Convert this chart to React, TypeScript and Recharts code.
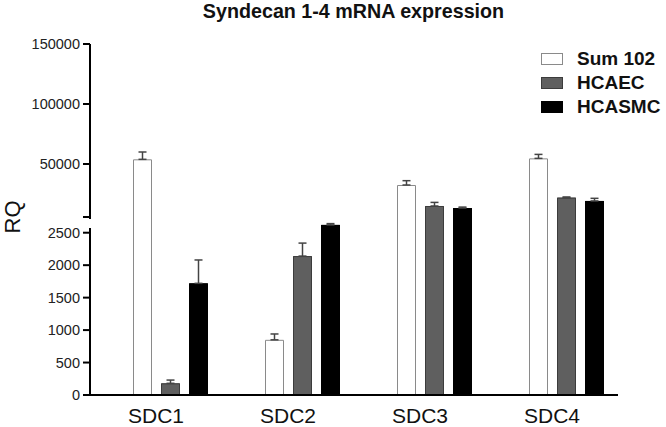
import { BarChart, Bar, XAxis, YAxis, ErrorBar, Legend } from "recharts";

const CATEGORIES = ["SDC1", "SDC2", "SDC3", "SDC4"];
const SUM102 = [53900, 850, 32500, 54700];
const SUM102_ERR = [6100, 90, 3600, 3300];
const HCAEC = [180, 2140, 15000, 22000];
const HCAEC_ERR = [50, 200, 3000, 500];
const HCASMC = [1720, 2620, 13300, 19200];
const HCASMC_ERR = [360, 20, 800, 2200];

// broken y axis: upper and lower segments
const UPPER_MIN = 5833;
const UPPER_TICKS = [UPPER_MIN, 50000, 100000, 150000];
const LOWER_MAX = 2742;
const LOWER_TICKS = [0, 500, 1000, 1500, 2000, 2500];

const SERIES = [
  { key: "sum102", name: "Sum 102", fill: "#ffffff", stroke: "#8a8a8a" },
  { key: "hcaec", name: "HCAEC", fill: "#5f5f5f", stroke: "#3c3c3c" },
  { key: "hcasmc", name: "HCASMC", fill: "#000000", stroke: "#000000" },
];

const data = CATEGORIES.map((name, i) => ({
  name,
  sum102: SUM102[i],
  sum102Err: SUM102_ERR[i],
  hcaec: HCAEC[i],
  hcaecErr: HCAEC_ERR[i],
  hcasmc: HCASMC[i],
  hcasmcErr: HCASMC_ERR[i],
}));

const FONT = "'Liberation Sans', Arial, sans-serif";
const W = 666;
const MARGIN_RIGHT = 48;

const axisStyle = { stroke: "#000", strokeWidth: 2 };
const tickStyle = { fill: "#222", fontSize: 14.5, fontFamily: FONT };

// bar without bottom edge, so the two segments join cleanly
const makeShape = (key: string, upper: boolean) => (props: any) => {
  const { x, y, width, height, fill, stroke, payload } = props;
  if (upper && !(payload[key] > UPPER_MIN)) return <g />;
  if (!(height > 0)) return <g />;
  return (
    <g>
      <rect x={x} y={y} width={width} height={height} fill={fill} />
      <path
        d={`M${x + 0.5},${y + height}V${y + 0.5}H${x + width - 0.5}V${y + height}`}
        fill="none"
        stroke={stroke}
        strokeWidth={1}
      />
    </g>
  );
};

const renderBars = (upper: boolean) =>
  SERIES.map((s) => (
    <Bar
      key={s.key}
      xAxisId="bars"
      dataKey={s.key}
      name={s.name}
      fill={s.fill}
      stroke={s.stroke}
      barSize={19}
      shape={makeShape(s.key, upper)}
      isAnimationActive={false}
    >
      <ErrorBar
        dataKey={(d: any) =>
          (upper ? d[s.key] > UPPER_MIN : d[s.key] <= LOWER_MAX) ? [0, d[`${s.key}Err`]] : undefined
        }
        width={4}
        stroke="#444"
        strokeWidth={1.5}
        direction="y"
      />
    </Bar>
  ));

const renderLegend = () => (
  <div style={{ fontFamily: FONT, fontWeight: "bold", fontSize: 19, color: "#111" }}>
    {SERIES.map((s) => (
      <div key={s.key} style={{ display: "flex", alignItems: "center", height: 24 }}>
        <span
          style={{
            display: "inline-block",
            width: 20,
            height: 10,
            background: s.fill,
            border: `1px solid ${s.stroke}`,
            marginRight: 14,
          }}
        />
        <span>{s.name}</span>
      </div>
    ))}
  </div>
);

export default function App() {
  return (
    <div style={{ position: "absolute", left: 0, top: 0, width: W, height: 427, background: "#fff" }}>
      <div
        style={{
          position: "absolute",
          top: 0,
          left: 0,
          width: 707,
          textAlign: "center",
          fontFamily: FONT,
          fontWeight: "bold",
          fontSize: 19.7,
          color: "#111",
        }}
      >
        Syndecan 1-4 mRNA expression
      </div>
      <div
        style={{
          position: "absolute",
          left: 13,
          top: 217,
          transform: "translate(-50%, -50%) rotate(-90deg)",
          fontFamily: FONT,
          fontSize: 22,
          color: "#111",
          whiteSpace: "nowrap",
        }}
      >
        RQ
      </div>

      <div style={{ position: "absolute", left: 0, top: 0 }}>
        <BarChart
          width={W}
          height={427}
          data={data}
          margin={{ top: 217, right: MARGIN_RIGHT, bottom: 0, left: 0 }}
          barGap={9}
          barCategoryGap={28}
        >
          <XAxis
            dataKey="name"
            height={32}
            axisLine={axisStyle}
            tickLine={false}
            tickSize={0}
            tickMargin={13}
            tick={{ fill: "#111", fontSize: 21, fontFamily: FONT }}
          />
          <XAxis xAxisId="bars" dataKey="name" hide padding={{ left: 14, right: -14 }} />
          <YAxis
            width={90}
            domain={[0, LOWER_MAX]}
            allowDataOverflow
            ticks={LOWER_TICKS}
            axisLine={axisStyle}
            tickLine={axisStyle}
            tickSize={7}
            tickMargin={3}
            tick={tickStyle}
          />
          {renderBars(false)}
        </BarChart>
      </div>

      <div style={{ position: "absolute", left: 0, top: 0 }}>
        <BarChart
          width={W}
          height={230}
          data={data}
          margin={{ top: 44, right: MARGIN_RIGHT, bottom: 13, left: 0 }}
          barGap={9}
          barCategoryGap={28}
        >
          <XAxis xAxisId="bars" dataKey="name" hide padding={{ left: 14, right: -14 }} />
          <YAxis
            width={90}
            domain={[UPPER_MIN, 150000]}
            allowDataOverflow
            ticks={UPPER_TICKS}
            tickFormatter={(v: number) => (v < 10000 ? "" : String(v))}
            axisLine={axisStyle}
            tickLine={axisStyle}
            tickSize={7}
            tickMargin={3}
            tick={tickStyle}
          />
          {renderBars(true)}
          <Legend
            content={renderLegend}
            layout="vertical"
            align="center"
            verticalAlign="middle"
            wrapperStyle={{ top: 47, left: 541, width: "auto" }}
          />
        </BarChart>
      </div>

      <div style={{ position: "absolute", left: 86, top: 219, width: 7, height: 9, background: "#fff" }} />
    </div>
  );
}
